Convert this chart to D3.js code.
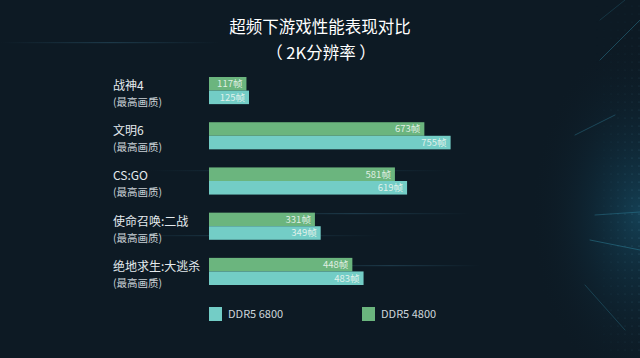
<!DOCTYPE html>
<html>
<head>
<meta charset="utf-8">
<script src="https://cdn.jsdelivr.net/npm/d3@7"></script>
<style>
  html, body { margin: 0; padding: 0; background: #0d1a24; }
  svg { display: block; }
</style>
</head>
<body>
<div id="chart"></div>
<script>
// data
const games = ["战神4", "文明6", "CS:GO", "使命召唤:二战", "绝地求生:大逃杀"];
const subLabel = "(最高画质)";
const series = ["DDR5 4800", "DDR5 6800"];
const ddr4800 = [117, 673, 581, 331, 448];
const ddr6800 = [125, 755, 619, 349, 483];
const legendOrder = ["DDR5 6800", "DDR5 4800"];
const unit = "帧";

const W = 640, H = 358;
const font = "'Noto Sans CJK SC', 'Noto Sans', sans-serif";
const colors = {"DDR5 4800": "#6bb57e", "DDR5 6800": "#73cdc6"};

const svg = d3.select("#chart").append("svg")
    .attr("width", W)
    .attr("height", H)
    .style("font-family", font);

// background
const defs = svg.append("defs");
const glow = defs.append("radialGradient")
    .attr("id", "glow")
    .attr("cx", "1").attr("cy", "0.6").attr("r", "0.5");
glow.append("stop").attr("offset", "0").attr("stop-color", "#1a5f7c").attr("stop-opacity", 0.55);
glow.append("stop").attr("offset", "0.5").attr("stop-color", "#123f55").attr("stop-opacity", 0.25);
glow.append("stop").attr("offset", "1").attr("stop-color", "#0d1a24").attr("stop-opacity", 0);

const streak = defs.append("linearGradient").attr("id", "streak");
streak.append("stop").attr("offset", "0").attr("stop-color", "#3f7f9c").attr("stop-opacity", 0);
streak.append("stop").attr("offset", "0.5").attr("stop-color", "#3f7f9c").attr("stop-opacity", 0.3);
streak.append("stop").attr("offset", "1").attr("stop-color", "#3f7f9c").attr("stop-opacity", 0);

svg.append("rect").attr("width", W).attr("height", H).attr("fill", "#0d1a24");
svg.append("rect").attr("x", 420).attr("width", W - 420).attr("height", H).attr("fill", "url(#glow)");

// faint light streaks behind the chart
[[0, 42, 220], [150, 170, 300], [240, 213, 230], [300, 265, 180], [120, 235, 260]].forEach(([x, y, w]) => {
  svg.append("rect").attr("x", x).attr("y", y).attr("width", w).attr("height", 1.2)
      .attr("fill", "url(#streak)");
});

// radiating streaks on the right edge
const rays = svg.append("g").attr("stroke", "#3aa6c4").attr("stroke-linecap", "round");
[[600, 60, 640, 20, 0.35], [575, 135, 615, 115, 0.3], [595, 215, 640, 212, 0.3],
 [590, 240, 640, 250, 0.35], [585, 285, 625, 330, 0.25], [600, 20, 625, 0, 0.2]].forEach(([a, b, c, d, o]) => {
  rays.append("line").attr("x1", a).attr("y1", b).attr("x2", c).attr("y2", d)
      .attr("stroke-width", 1).attr("stroke-opacity", o);
});

// dotted grid on the right edge
const dots = svg.append("g").attr("fill", "#5b9ab5");
for (let x = 590; x < W; x += 7) {
  for (let y = 6; y < H; y += 8) {
    const d = Math.abs(y - 215) / 200;
    dots.append("circle").attr("cx", x).attr("cy", y).attr("r", 0.6)
        .attr("opacity", Math.max(0.1, 0.5 - d * 0.35) * ((x - 590) / 50));
  }
}

// title
svg.append("text")
    .attr("x", 320).attr("y", 33)
    .attr("text-anchor", "middle")
    .attr("fill", "#ffffff")
    .style("font-size", "16.5px")
    .text("超频下游戏性能表现对比");
svg.append("text")
    .attr("x", 321).attr("y", 59)
    .attr("text-anchor", "middle")
    .attr("fill", "#ffffff")
    .style("font-size", "16.5px")
    .text("（ 2K分辨率 ）");

// scales
const y0 = d3.scaleBand()
    .domain(games)
    .range([77, 285])
    .paddingInner(0.4);

const y1 = d3.scaleBand()
    .domain(series)
    .range([0, y0.bandwidth()]);

const x = d3.scaleLinear()
    .domain([0, 800])
    .range([209, 465]);

const rows = games.map((g, i) => ({
  game: g,
  values: [
    {key: "DDR5 4800", value: ddr4800[i]},
    {key: "DDR5 6800", value: ddr6800[i]}
  ]
}));

const group = svg.selectAll(".group")
    .data(rows)
    .enter().append("g")
    .attr("class", "group")
    .attr("transform", (d) => "translate(0," + y0(d.game) + ")");

// category labels
group.append("text")
    .attr("x", 113).attr("y", 13)
    .attr("fill", "#e4eaee")
    .style("font-size", "12px")
    .text((d) => d.game);
group.append("text")
    .attr("x", 113).attr("y", 29)
    .attr("fill", "#c9d1d6")
    .style("font-size", "10.5px")
    .text(subLabel);

// bars
group.selectAll("rect")
    .data((d) => d.values)
    .enter().append("rect")
    .attr("x", x(0))
    .attr("y", (d) => y1(d.key))
    .attr("width", (d) => x(d.value) - x(0))
    .attr("height", y1.bandwidth())
    .attr("fill", (d) => colors[d.key]);

group.selectAll(".val")
    .data((d) => d.values)
    .enter().append("text")
    .attr("class", "val")
    .attr("x", (d) => x(d.value) - 4)
    .attr("y", (d) => y1(d.key) + y1.bandwidth() / 2)
    .attr("dy", "0.36em")
    .attr("text-anchor", "end")
    .attr("fill", "#eef6f0")
    .attr("fill-opacity", 0.9)
    .style("font-size", "9.5px")
    .text((d) => d.value + unit);

// legend
const legend = svg.selectAll(".legend")
    .data(legendOrder)
    .enter().append("g")
    .attr("class", "legend")
    .attr("transform", (d, i) => "translate(" + (209 + i * 153) + ",307)");
legend.append("rect")
    .attr("width", 13).attr("height", 14)
    .attr("fill", (d) => colors[d]);
legend.append("text")
    .attr("x", 19).attr("y", 7)
    .attr("dy", "0.36em")
    .attr("fill", "#cdd6db")
    .style("font-size", "11px")
    .text((d) => d);
</script>
</body>
</html>
